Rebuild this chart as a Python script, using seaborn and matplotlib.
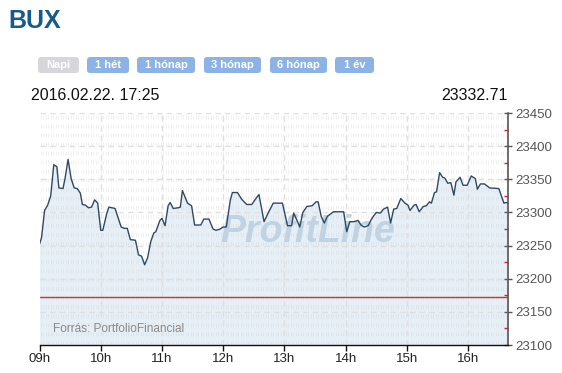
#!/usr/bin/env python3
"""
BUX intraday chart (2016.02.22) rebuilt with seaborn/matplotlib.
"""

import numpy as np
import pandas as pd
import matplotlib
matplotlib.use("Agg")
import matplotlib.pyplot as plt
import seaborn as sns
from matplotlib.patches import FancyBboxPatch
from matplotlib.ticker import MultipleLocator, AutoMinorLocator

# minutes after 09:00 and index value
minutes = [0, 2, 5, 8, 11, 14, 17, 19, 23, 25, 28, 31, 34, 37, 40, 42, 45, 48, 51, 54,
           57, 60, 62, 66, 68, 74, 80, 83, 86, 89, 94, 97, 100, 103, 106, 109, 112, 114,
           118, 120, 123, 126, 128, 131, 136, 138, 140, 145, 149, 152, 158, 161, 166,
           170, 173, 177, 180, 183, 187, 189, 194, 198, 203, 208, 212, 215, 220, 224,
           229, 234, 238, 243, 247, 249, 252, 255, 258, 262, 267, 271, 273, 276, 279,
           282, 288, 298, 301, 304, 308, 312, 315, 318, 322, 325, 327, 330, 334, 337,
           341, 344, 347, 350, 354, 358, 361, 363, 367, 369, 372, 376, 379, 382, 384,
           387, 389, 392, 395, 397, 400, 403, 406, 408, 412, 415, 419, 423, 427, 429,
           432, 436, 441, 450, 455, 457, 459]
values = [23252, 23262, 23303, 23311, 23325, 23372, 23369, 23337, 23336, 23351, 23380,
          23351, 23337, 23336, 23329, 23312, 23311, 23307, 23308, 23319, 23314, 23273,
          23273, 23299, 23308, 23306, 23278, 23276, 23276, 23259, 23258, 23236, 23234,
          23221, 23232, 23256, 23269, 23271, 23288, 23291, 23280, 23310, 23315, 23306,
          23307, 23308, 23333, 23314, 23310, 23281, 23281, 23290, 23290, 23275, 23273,
          23275, 23278, 23278, 23319, 23330, 23330, 23320, 23312, 23312, 23321, 23327,
          23286, 23299, 23314, 23314, 23314, 23280, 23280, 23299, 23289, 23278, 23300,
          23309, 23310, 23316, 23316, 23294, 23284, 23294, 23301, 23301, 23271, 23286,
          23286, 23288, 23281, 23278, 23280, 23289, 23294, 23300, 23299, 23305, 23308,
          23284, 23305, 23306, 23321, 23314, 23311, 23303, 23311, 23312, 23301, 23309,
          23310, 23316, 23314, 23330, 23331, 23360, 23353, 23352, 23344, 23345, 23326,
          23346, 23353, 23341, 23341, 23355, 23351, 23335, 23343, 23343, 23337, 23336,
          23314, 23315, 23314]

hour_ticks = [0, 60, 120, 180, 240, 300, 360, 420]
hour_labels = ["09h", "10h", "11h", "12h", "13h", "14h", "15h", "16h"]
prev_close = 23172
last_value = "23332.71"
timestamp = "2016.02.22. 17:25"
buttons = ["Napi", "1 hét", "1 hónap", "3 hónap", "6 hónap", "1 év"]

W, H = 562, 373


def main():
    df = pd.DataFrame({"minute": minutes, "value": values})

    sns.set_theme(style="white")
    plt.rcParams["font.family"] = ["Liberation Sans", "DejaVu Sans"]

    fig = plt.figure(figsize=(W / 100, H / 100), dpi=100)
    fig.patch.set_facecolor("white")
    ax = fig.add_axes([39.5 / W, 28 / H, 468.5 / W, 232 / H])
    ax.set_facecolor("white")

    ymin, ymax = 23100, 23450
    ax.set_xlim(0, 459)
    ax.set_ylim(ymin, ymax)

    # area under the curve
    ax.fill_between(df["minute"], df["value"], ymin, color="#e6eef6", lw=0, zorder=0.3)

    # faint striped background pattern
    ax.vlines(np.arange(1.2, 459, 2.45), ymin, ymax, colors="#d2d2d2", lw=0.7,
              linestyles=(0, (4.1, 5.2)), alpha=0.3, zorder=0.5)

    # dashed grid
    for m in hour_ticks[1:]:
        ax.axvline(m, color="#e0e0e0", lw=1, ls=(0, (4, 3)), zorder=0.6)
    for v in range(23150, 23451, 50):
        ax.axhline(v, color="#e0e0e0", lw=1, ls=(0, (4, 3)), zorder=0.6)

    # watermark
    ax.text(308 / W, 1 - 232 / H, "ProfitLine", transform=fig.transFigure,
            ha="center", va="center", fontsize=27, fontweight="bold", style="italic",
            color="#bfd3e3", zorder=1)

    ax.axhline(prev_close, color="#d8302c", lw=1, zorder=2)
    sns.lineplot(data=df, x="minute", y="value", ax=ax, color="#2e4a62", lw=1,
                 zorder=3)

    ax.set_xlabel("")
    ax.set_ylabel("")
    ax.set_xticks(hour_ticks)
    ax.set_xticklabels(hour_labels)
    ax.yaxis.tick_right()
    ax.yaxis.set_major_locator(MultipleLocator(50))
    ax.yaxis.set_minor_locator(AutoMinorLocator(2))

    for s in ["left", "top"]:
        ax.spines[s].set_visible(False)
    ax.spines["right"].set_color("#555555")
    ax.spines["right"].set_linewidth(1.2)
    ax.spines["bottom"].set_color("#111111")
    ax.spines["bottom"].set_linewidth(1)

    ax.tick_params(axis="x", bottom=True, direction="out", length=4, width=1,
                   color="#111111", labelsize=9.5, labelcolor="#222222", pad=2)
    ax.tick_params(axis="y", which="major", right=True, direction="inout", length=6,
                   width=1, color="#555555", labelsize=9.5, labelcolor="#555555", pad=2)
    ax.tick_params(axis="y", which="minor", right=True, direction="in", length=3,
                   width=1, color="#e02020")

    # header texts
    fig.text(8 / W, 1 - 28 / H, "BUX", fontsize=18, fontweight="bold",
             color="#175a8c", va="baseline")
    fig.text(31 / W, 1 - 100 / H, timestamp, fontsize=11.5, color="#111111",
             va="baseline")
    fig.text(508 / W, 1 - 100 / H, last_value, fontsize=11.5, color="#111111",
             va="baseline", ha="right")
    fig.text(53 / W, 1 - 329 / H, "Forrás: PortfolioFinancial", fontsize=8.5,
             color="#8a8a8a", va="center")

    # period buttons
    lefts = [38, 87, 137, 204, 270, 335]
    widths = [41, 42, 58, 57, 57, 39]
    for label, x0, w in zip(buttons, lefts, widths):
        face = "#d7d7db" if label == "Napi" else "#8cb2e6"
        box = FancyBboxPatch((x0 / 100, (H - 73) / 100), w / 100, 16 / 100,
                             boxstyle="round,pad=0,rounding_size=0.03",
                             transform=fig.dpi_scale_trans, facecolor=face,
                             edgecolor="none")
        fig.patches.append(box)
        fig.text((x0 + w / 2) / W, 1 - 65 / H, label, ha="center", va="center",
                 fontsize=8, fontweight="bold", color="white")

    fig.savefig("out.png", dpi=100)
    plt.close(fig)


if __name__ == "__main__":
    main()
